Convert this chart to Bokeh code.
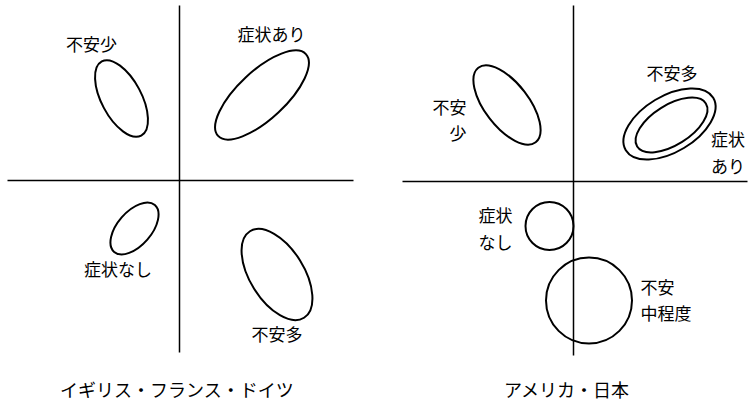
import math
from bokeh.plotting import figure
from bokeh.layouts import row
from bokeh.models import ColumnDataSource, Range1d
from bokeh.core.properties import value
from bokeh.embed import file_html
from bokeh.resources import INLINE

FONT = "Noto Sans CJK JP"

# ---------- left panel: イギリス・フランス・ドイツ ----------
left_title = "イギリス・フランス・ドイツ"
left_names = ["不安少", "症状あり", "症状なし", "不安多"]
left_cx = [-58, 82.5, -45, 97.5]
left_cy = [82, 85.5, -48, -94]
left_major = [84, 120, 62, 102]
left_minor = [40, 48, 34, 54]
left_angle_deg = [118, 43, 49, 122]
left_label_x = [-88, 92, -61.5, 97.5]
left_label_y = [137, 147, -88, -153]
left_axis_x = [-172, 174]
left_axis_y = [-172, 175]

# ---------- right panel: アメリカ・日本 ----------
right_title = "アメリカ・日本"
right_names = ["不安少", "不安多", "症状あり", "症状なし", "不安中程度"]
right_cx = [-66.5, 96, 98, -24, 15.5]
right_cy = [76.5, 57.5, 56.5, -44.5, -119]
right_major = [94, 102, 81, 48, 86]
right_minor = [44, 56, 40, 48, 86]
right_angle_deg = [127.6, 31, 32, 0, 0]
right_labels = ["不安\n少", "不安多", "症状\nあり", "症状\nなし", "不安\n中程度"]
right_label_x = [-107, 98.5, 154.5, -78, 67]
right_label_y = [62, 109, 29.5, -46.5, -118]
right_label_align = ["right", "center", "center", "center", "left"]
right_axis_x = [-171, 174]
right_axis_y = [-174, 176]


def panel(width, xr, yr, title, cx, cy, major, minor, ang, labels, lx, ly, lalign,
          ax, ay, title_x, title_y):
    p = figure(width=width, height=403, x_range=Range1d(*xr), y_range=Range1d(*yr),
               output_backend="svg", toolbar_location=None, min_border=0,
               x_axis_type=None, y_axis_type=None)
    p.outline_line_color = None
    p.grid.visible = False
    p.background_fill_color = "white"
    p.border_fill_color = "white"
    # axes crossing at the origin
    p.segment(x0=[ax[0], 0], y0=[0, ay[0]], x1=[ax[1], 0], y1=[0, ay[1]],
              line_color="black", line_width=1.5)
    src = ColumnDataSource(dict(x=cx, y=cy, w=major, h=minor,
                                a=[math.radians(d) for d in ang]))
    p.ellipse(x="x", y="y", width="w", height="h", angle="a", source=src,
              fill_color=None, line_color="black", line_width=2)
    lsrc = ColumnDataSource(dict(x=lx, y=ly, t=labels, al=lalign))
    p.text(x="x", y="y", text="t", text_align="al", source=lsrc,
           text_baseline="middle", text_font=value(FONT),
           text_font_size=value("17px"), text_color="black", text_line_height=1.05)
    p.text(x=[title_x], y=[title_y], text=[title], text_align="center",
           text_baseline="middle", text_font=value(FONT),
           text_font_size=value("18px"), text_color="black")
    return p


p1 = panel(374, (-179, 195), (-223, 180), left_title, left_cx, left_cy, left_major,
           left_minor, left_angle_deg, left_names, left_label_x, left_label_y,
           ["center"] * 4, left_axis_x, left_axis_y, -2.5, -208)
p2 = panel(375, (-199, 176), (-222, 181), right_title, right_cx, right_cy, right_major,
           right_minor, right_angle_deg, right_labels, right_label_x, right_label_y,
           right_label_align, right_axis_x, right_axis_y, -6.5, -207)

layout = row(p1, p2, spacing=0)
open("out.html", "w").write(file_html(layout, INLINE))
